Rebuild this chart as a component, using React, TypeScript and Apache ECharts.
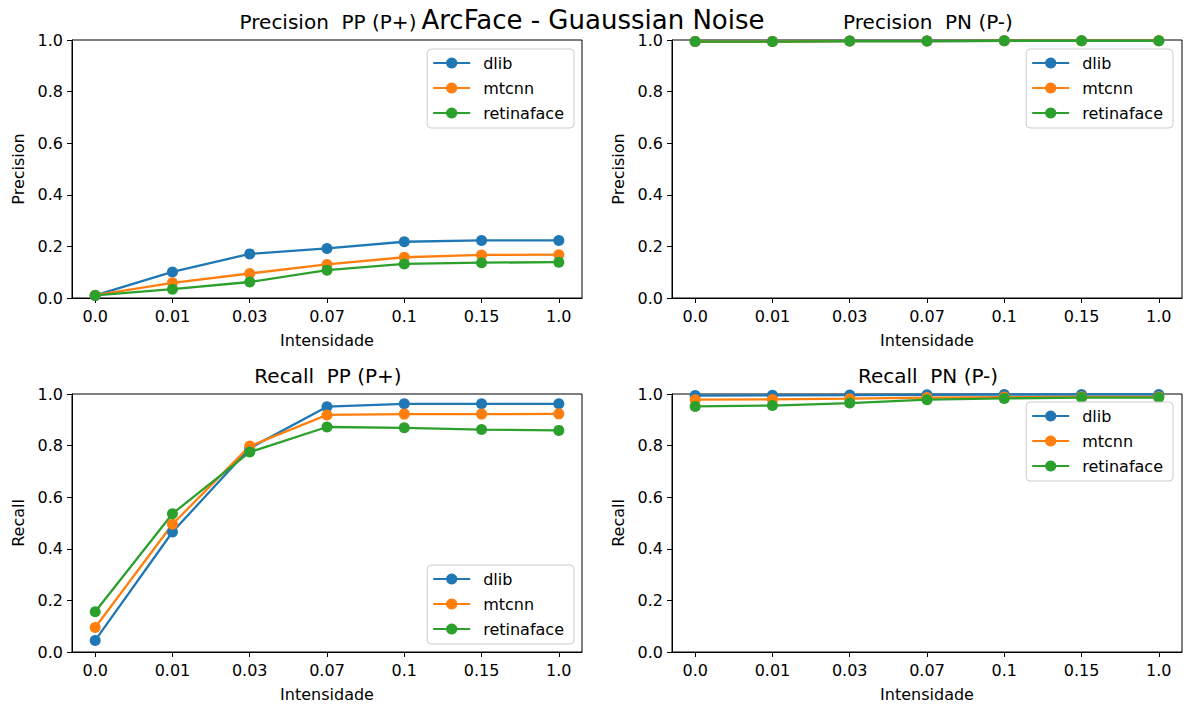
import React, { useEffect, useRef } from "react";
import * as echarts from "echarts";

const categories = ["0.0", "0.01", "0.03", "0.07", "0.1", "0.15", "1.0"];
const seriesNames = ["dlib", "mtcnn", "retinaface"];
const colors = ["#1f77b4", "#ff7f0e", "#2ca02c"];

const precPPDlib = [0.01, 0.101, 0.171, 0.192, 0.218, 0.223, 0.223];
const precPPMtcnn = [0.011, 0.059, 0.095, 0.13, 0.158, 0.167, 0.168];
const precPPRetina = [0.01, 0.034, 0.062, 0.108, 0.132, 0.137, 0.139];

const precPNDlib = [0.994, 0.994, 0.996, 0.996, 0.997, 0.997, 0.997];
const precPNMtcnn = [0.994, 0.994, 0.996, 0.996, 0.997, 0.997, 0.997];
const precPNRetina = [0.994, 0.994, 0.996, 0.996, 0.997, 0.997, 0.997];

const recPPDlib = [0.045, 0.465, 0.79, 0.951, 0.962, 0.962, 0.962];
const recPPMtcnn = [0.095, 0.495, 0.798, 0.919, 0.922, 0.922, 0.923];
const recPPRetina = [0.156, 0.536, 0.775, 0.872, 0.869, 0.862, 0.859];

const recPNDlib = [0.994, 0.995, 0.996, 0.997, 0.998, 0.998, 0.998];
const recPNMtcnn = [0.978, 0.979, 0.982, 0.986, 0.988, 0.989, 0.989];
const recPNRetina = [0.952, 0.955, 0.965, 0.978, 0.983, 0.986, 0.986];

const suptitle = "ArcFace - Guaussian Noise";
const subTitles = ["Precision  PP (P+)", "Precision  PN (P-)", "Recall  PP (P+)", "Recall  PN (P-)"];
const yNames = ["Precision", "Precision", "Recall", "Recall"];
const xName = "Intensidade";

const panels = [
  [precPPDlib, precPPMtcnn, precPPRetina],
  [precPNDlib, precPNMtcnn, precPNRetina],
  [recPPDlib, recPPMtcnn, recPPRetina],
  [recPNDlib, recPNMtcnn, recPNRetina],
];

const FONT = "DejaVu Sans";

export default function App() {
  const ref = useRef<HTMLDivElement>(null);
  useEffect(() => {
    if (!ref.current) return;
    const chart = echarts.init(ref.current, undefined, { renderer: "svg" });
    const gridPos = [
      { left: 72, top: 40 },
      { left: 672, top: 40 },
      { left: 72, top: 394 },
      { left: 672, top: 394 },
    ];
    const W = 510;
    const H = 258;
    const tickIdx = categories.map((_, i) => i);
    const grid = gridPos.map((g) => ({
      left: g.left,
      top: g.top,
      width: W,
      height: H,
      show: true,
      borderColor: "#000",
      borderWidth: 1,
      backgroundColor: "transparent",
    }));
    const xAxis = gridPos.map((_, i) => ({
      type: "value",
      gridIndex: i,
      min: -0.3,
      max: 6.3,
      name: xName,
      nameLocation: "middle",
      nameGap: 34,
      nameTextStyle: { fontFamily: FONT, fontSize: 16, color: "#000" },
      axisLine: { show: true, onZero: false, lineStyle: { color: "#000", width: 1 } },
      axisTick: { show: true, length: 5, lineStyle: { color: "#000" }, customValues: tickIdx },
      axisLabel: {
        show: true,
        margin: 10,
        fontFamily: FONT,
        fontSize: 16,
        color: "#000",
        customValues: tickIdx,
        formatter: (v: number) => categories[Math.round(v)] ?? "",
      },
      splitLine: { show: false },
    }));
    const yAxis = gridPos.map((_, i) => ({
      type: "value",
      gridIndex: i,
      min: 0,
      max: 1,
      interval: 0.2,
      name: yNames[i],
      nameLocation: "middle",
      nameGap: 46,
      nameRotate: 90,
      nameTextStyle: { fontFamily: FONT, fontSize: 16, color: "#000" },
      axisLine: { show: true, onZero: false, lineStyle: { color: "#000", width: 1 } },
      axisTick: { show: true, length: 5, lineStyle: { color: "#000" } },
      axisLabel: {
        show: true,
        margin: 9,
        fontFamily: FONT,
        fontSize: 16,
        color: "#000",
        formatter: (v: number) => v.toFixed(1),
      },
      splitLine: { show: false },
    }));
    const series: any[] = [];
    panels.forEach((panel, p) => {
      panel.forEach((vals, s) => {
        series.push({
          type: "line",
          name: seriesNames[s],
          xAxisIndex: p,
          yAxisIndex: p,
          data: vals.map((v, i) => [i, v]),
          symbol: "circle",
          symbolSize: 11,
          showSymbol: true,
          clip: true,
          color: colors[s],
          lineStyle: { color: colors[s], width: 2.3 },
          itemStyle: { color: colors[s], borderWidth: 0 },
          emphasis: { disabled: true },
        });
      });
    });
    const legendBase = {
      orient: "vertical",
      data: seriesNames,
      itemWidth: 37,
      itemHeight: 14,
      itemGap: 9,
      padding: [6, 10, 7, 5],
      backgroundColor: "rgba(255,255,255,0.8)",
      borderColor: "#cccccc",
      borderWidth: 1,
      borderRadius: 4,
      selectedMode: false,
      textStyle: { fontFamily: FONT, fontSize: 16, color: "#000", padding: [0, 0, 0, 8] },
    };
    const legend = [
      { ...legendBase, right: 610, top: 49 },
      { ...legendBase, right: 11, top: 49 },
      { ...legendBase, right: 610, bottom: 65 },
      { ...legendBase, right: 11, top: 402 },
    ];
    const titleCenters = [
      { x: 328, y: 22 },
      { x: 928, y: 22 },
      { x: 328, y: 376 },
      { x: 928, y: 376 },
    ];
    const graphic: any[] = [
      {
        type: "text",
        x: 593,
        y: 20,
        style: {
          text: suptitle,
          fontFamily: FONT,
          fontSize: 26,
          fill: "#000",
          align: "center",
          verticalAlign: "middle",
        },
        z: 10,
      },
      ...titleCenters.map((c, i) => ({
        type: "text",
        x: c.x,
        y: c.y,
        style: {
          text: subTitles[i],
          fontFamily: FONT,
          fontSize: 20,
          fill: "#000",
          align: "center",
          verticalAlign: "middle",
        },
        z: 9,
      })),
    ];
    chart.setOption({
      animation: false,
      backgroundColor: "#fff",
      grid,
      xAxis,
      yAxis,
      series,
      legend,
      graphic,
    });
    return () => chart.dispose();
  }, []);
  return (
    <div
      ref={ref}
      style={{ position: "fixed", left: 0, top: 0, width: 1184, height: 709, background: "#fff" }}
    />
  );
}
